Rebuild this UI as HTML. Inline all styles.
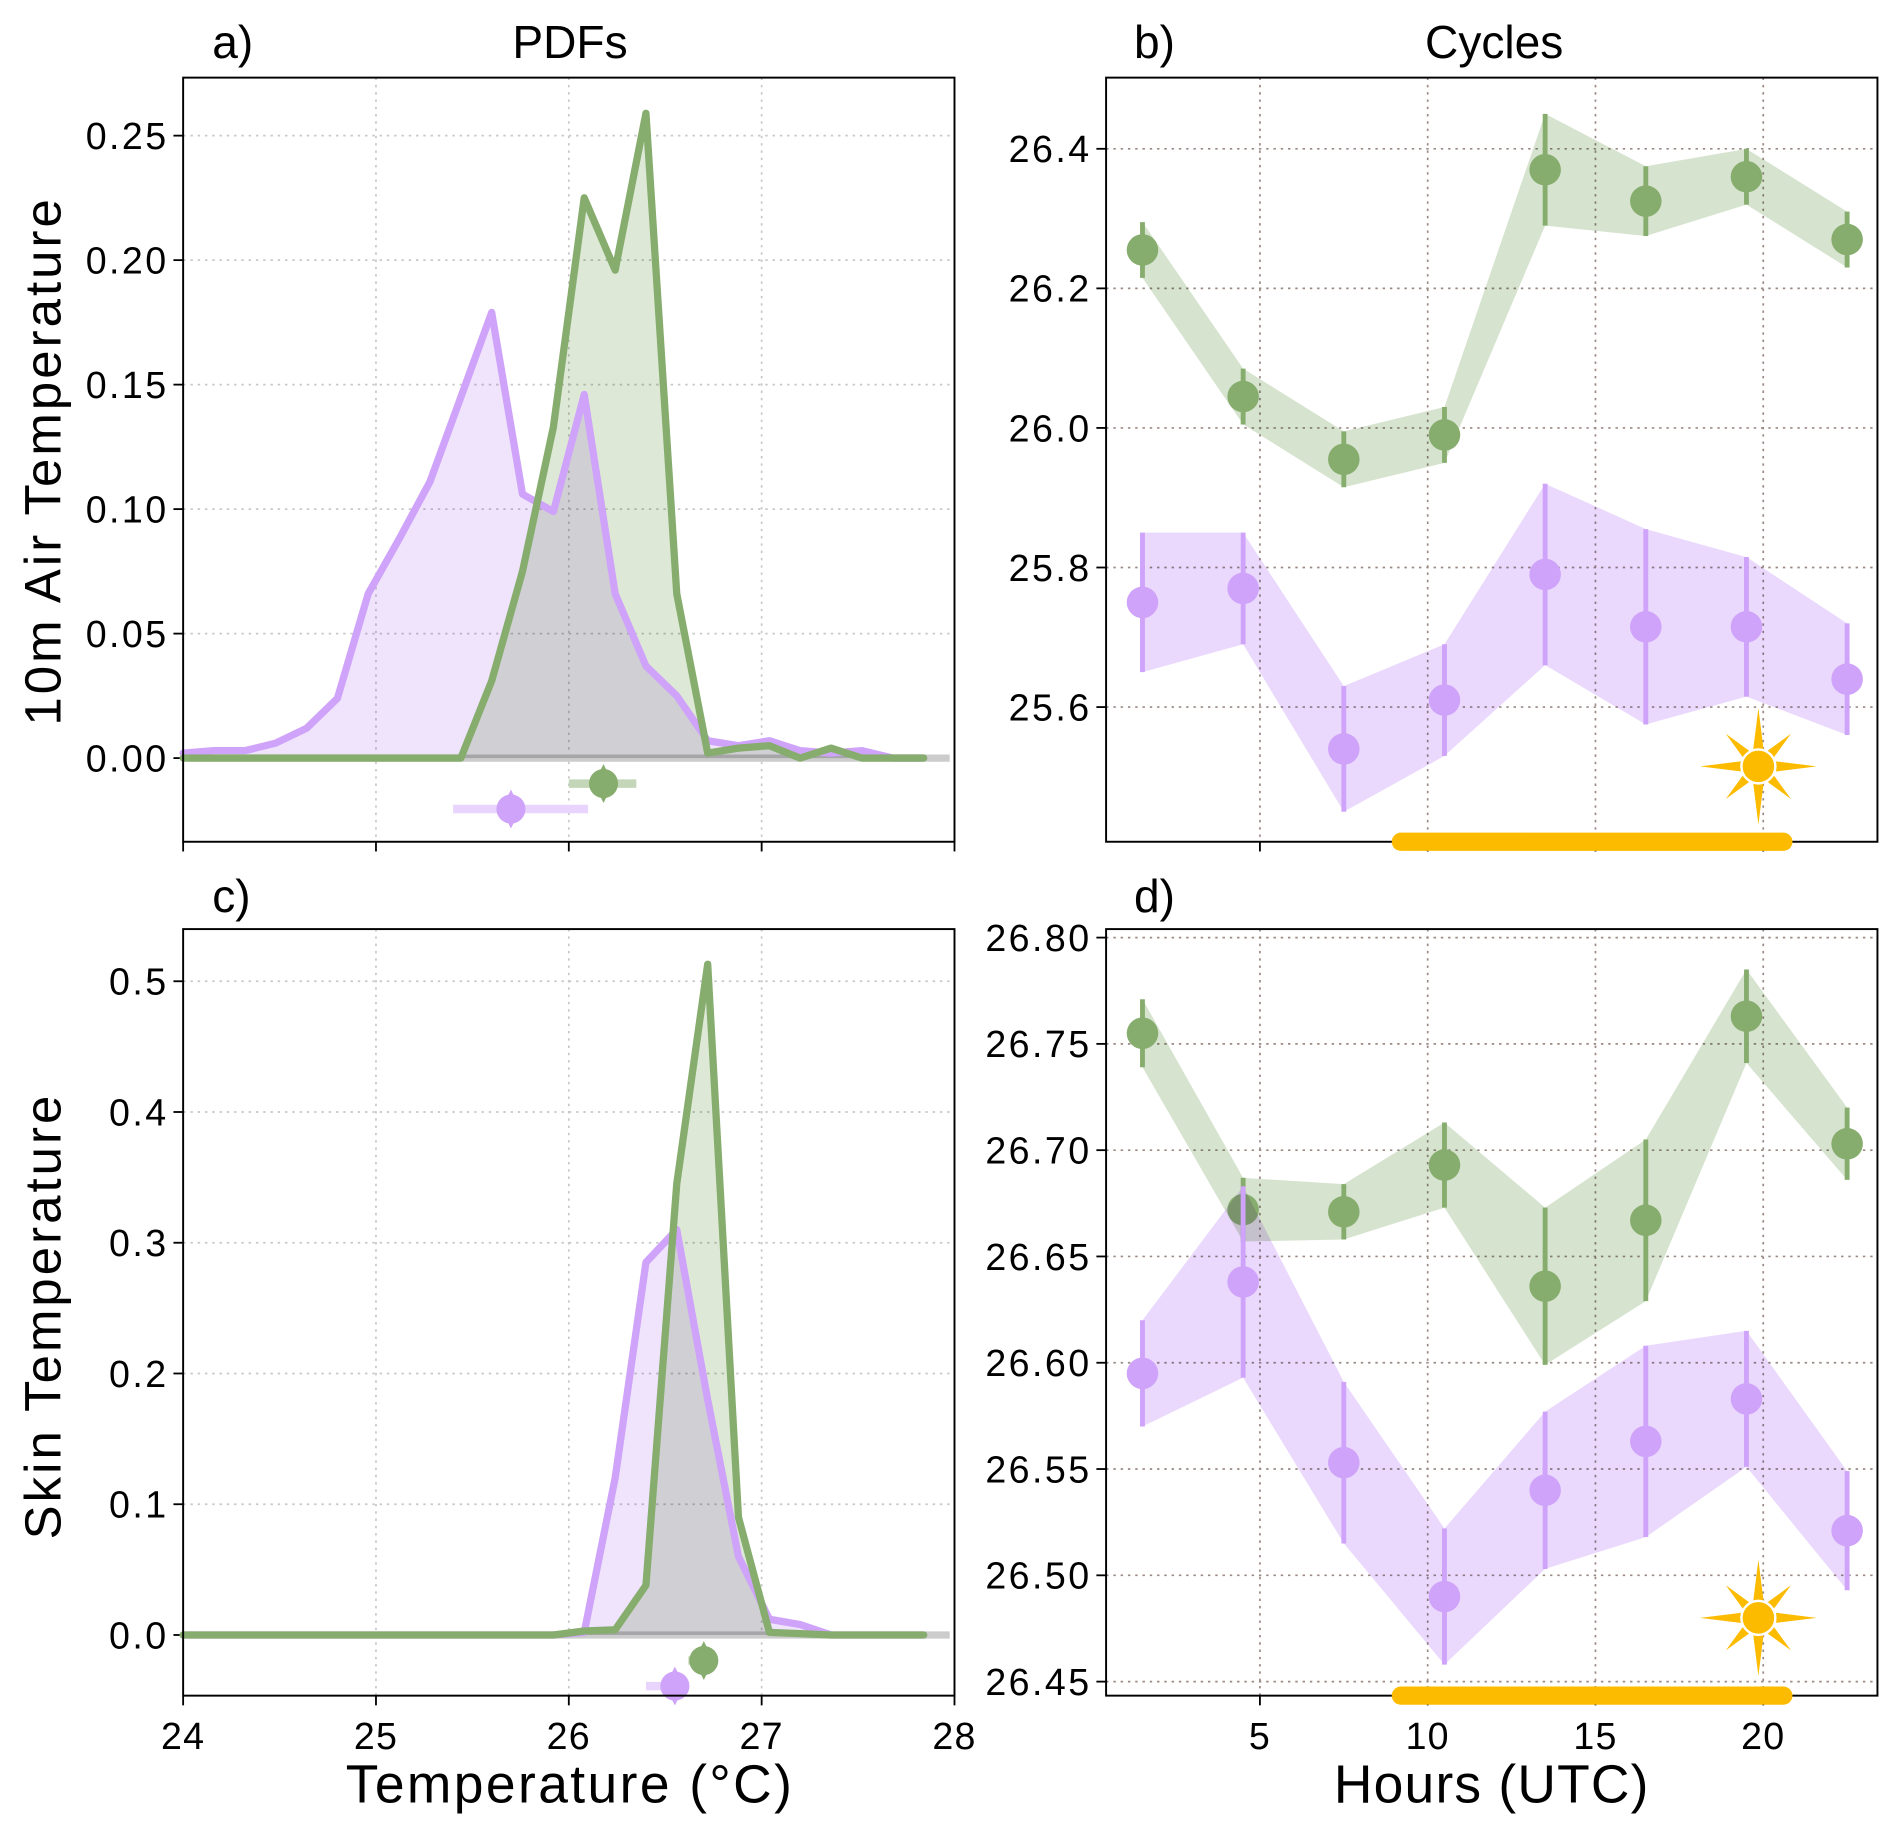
<!DOCTYPE html>
<html><head><meta charset="utf-8"><style>
html,body{margin:0;padding:0;background:#fff;}
svg{display:block;}
text{font-family:"Liberation Sans",sans-serif;fill:#000;}
</style></head><body>
<svg id="fig" width="1892" height="1823" viewBox="0 0 1560 1503" preserveAspectRatio="none" xmlns="http://www.w3.org/2000/svg"></svg>
<script>
// ---- data ----
const pdfBins = [24.00,24.16,24.32,24.48,24.64,24.80,24.96,25.12,25.28,25.44,25.60,25.76,25.92,26.08,26.24,26.40,26.56,26.72,26.88,27.04,27.20,27.36,27.52,27.68,27.84];
const airPurple = [0.002,0.003,0.003,0.006,0.012,0.024,0.066,0.088,0.111,0.145,0.179,0.106,0.099,0.146,0.066,0.037,0.025,0.007,0.005,0.007,0.003,0.002,0.003,0.0,0.0];
const airGreen  = [0,0,0,0,0,0,0,0,0,0,0.031,0.075,0.133,0.225,0.196,0.259,0.066,0.002,0.004,0.005,0.0,0.004,0.0,0.0,0.0];
const skinPurple= [0,0,0,0,0,0,0,0,0,0,0,0,0,0.002,0.12,0.285,0.31,0.18,0.06,0.012,0.008,0.0,0.0,0.0,0.0];
const skinGreen = [0,0,0,0,0,0,0,0,0,0,0,0,0,0.003,0.004,0.038,0.345,0.513,0.09,0.002,0.001,0.0,0.0,0.0,0.0];
const airBoxGreen = [26.0, 26.18, 26.35];
const airBoxPurple = [25.4, 25.7, 26.1];
const skinBoxGreen = [26.62, 26.7, 26.75];
const skinBoxPurple = [26.4, 26.55, 26.62];
const hours = [1.5,4.5,7.5,10.5,13.5,16.5,19.5,22.5];
const airCycGreen = [26.255,26.045,25.955,25.99,26.37,26.325,26.36,26.27];
const airCycGreenErr = [0.04,0.04,0.04,0.04,0.08,0.05,0.04,0.04];
const airCycPurple = [25.75,25.77,25.54,25.61,25.79,25.715,25.715,25.64];
const airCycPurpleErr = [0.1,0.08,0.09,0.08,0.13,0.14,0.1,0.08];
const skinCycGreen = [26.755,26.672,26.671,26.693,26.636,26.667,26.763,26.703];
const skinCycGreenErr = [0.016,0.015,0.013,0.02,0.037,0.038,0.022,0.017];
const skinCycPurple = [26.595,26.638,26.553,26.49,26.54,26.563,26.583,26.521];
const skinCycPurpleErr = [0.025,0.045,0.038,0.032,0.037,0.045,0.032,0.028];
const pdfXTicks = [24,25,26,27,28];
const airPdfYTicks = [0,0.05,0.10,0.15,0.20,0.25];
const skinPdfYTicks = [0,0.1,0.2,0.3,0.4,0.5];
const hourTicks = [5,10,15,20];
const airCycYTicks = [25.6,25.8,26.0,26.2,26.4];
const skinCycYTicks = [26.45,26.50,26.55,26.60,26.65,26.70,26.75,26.80];
const daylight = [9.2, 20.6];
const sunHour = 20;

const G='#86ad6e', GF='#dde9d6', P='#cfa3f9', PF='#f0e4fd', SUN='#fdbb00';
const svg=document.getElementById('fig');
const NS='http://www.w3.org/2000/svg';
function el(tag,attrs,parent){const e=document.createElementNS(NS,tag);for(const k in attrs)e.setAttribute(k,attrs[k]);(parent||svg).appendChild(e);return e;}
function lin(d0,d1,r0,r1){return v=>r0+(v-d0)*(r1-r0)/(d1-d0);}

function panel(cfg){
  const g=el('g',{});
  
  
  const {x0,x1,y0,y1,sx,sy}=cfg;
  cfg.xt.forEach(t=>{const x=sx(t);if(x>x0+1&&x<x1-1)el('line',{x1:x,x2:x,y1:y0,y2:y1,stroke:cfg.gridc,'stroke-width':1.4,'stroke-dasharray':'2 4'},g);});
  cfg.yt.forEach(t=>{const y=sy(t);el('line',{x1:x0,x2:x1,y1:y,y2:y,stroke:cfg.gridc,'stroke-width':1.4,'stroke-dasharray':'2 4'},g);});
  cfg.xt.forEach(t=>{const x=sx(t);el('line',{x1:x,x2:x,y1:y1,y2:y1+8,stroke:'#000','stroke-width':1.5},g);
    if(cfg.xlab){const tx=el('text',{x:x,y:y1+44,'font-size':31,'text-anchor':'middle','letter-spacing':1},g);tx.textContent=t;
      
      }});
  cfg.yt.forEach(t=>{const y=sy(t);el('line',{x1:x0-8,x2:x0,y1:y,y2:y,stroke:'#000','stroke-width':1.5},g);
    const tx=el('text',{x:x0-12,y:y+11,'font-size':31,'text-anchor':'end','letter-spacing':2},g);tx.textContent=t.toFixed(cfg.dec);
    
    });
  return g;
}
function frame(g,x0,x1,y0,y1){el('rect',{x:x0,y:y0,width:x1-x0,height:y1-y0,fill:'none',stroke:'#000','stroke-width':1.6},g);}

function pdfPanel(name,y0,y1,ylo,yhi,yt,dec,xlab,pur,grn,boxG,boxP){
  const x0=151,x1=787;
  const sx=lin(24,28,x0,x1), sy=lin(ylo,yhi,y1,y0);
  const g=panel({name,x0,x1,y0,y1,sx,sy,xt:pdfXTicks,yt,dec,xlab,gridc:'#c8c8c8'});
  el('line',{x1:x0+4,x2:x1-4,y1:sy(0),y2:sy(0),stroke:'#cccccc','stroke-width':6},g);
  [[pur,P,PF,'purple'],[grn,G,GF,'green']].forEach(([vals,c,f,nm])=>{
    const pts=pdfBins.map((b,i)=>sx(b).toFixed(1)+','+sy(vals[i]).toFixed(1));
    const poly=el('polygon',{points:sx(pdfBins[0])+','+sy(0)+' '+pts.join(' ')+' '+sx(pdfBins[pdfBins.length-1])+','+sy(0),fill:f,style:'mix-blend-mode:multiply'},g);
    
    
  });
  [[pur,P,'purple'],[grn,G,'green']].forEach(([vals,c,nm])=>{
    const pts=pdfBins.map((b,i)=>sx(b).toFixed(1)+','+sy(vals[i]).toFixed(1));
    const pl=el('polyline',{points:pts.join(' '),fill:'none',stroke:c,'stroke-width':6,'stroke-linejoin':'round','stroke-linecap':'round'},g);
    
    
  });
  [[boxG,G,'#c3d6b7',-0.01*(yhi-ylo)/0.3,'green'],[boxP,P,'#e8d4fc',-0.02*(yhi-ylo)/0.3,'purple']].forEach(([b,c,lc,yv,nm])=>{
    const y=sy(yv);
    const l=el('line',{x1:sx(b[0]),x2:sx(b[2]),y1:y,y2:y,stroke:lc,'stroke-width':7},g);
    
    
    const e=el('ellipse',{cx:sx(b[1]),cy:y,rx:12,ry:12,fill:c},g);
    
    
    el('path',{d:`M${sx(b[1])} ${y-16} L${sx(b[1])+8} ${y} L${sx(b[1])} ${y+16} L${sx(b[1])-8} ${y} Z`,fill:c},g);
  });
  frame(g,x0,x1,y0,y1);
}

function sun(g,cx,cy){
  const s=el('g',{},g);
  
  
  for(let k=0;k<8;k++){const a=k*Math.PI/4;const L=(k%2==0)?48:38;
    const tx=cx+L*Math.cos(a),ty=cy+L*Math.sin(a),w=6;
    const px=-Math.sin(a)*w,py=Math.cos(a)*w;
    el('polygon',{points:`${tx},${ty} ${cx+px},${cy+py} ${cx-px},${cy-py}`,fill:SUN},s);}
  el('circle',{cx,cy,r:14,fill:SUN,stroke:'#fff','stroke-width':2},s);
}

function cycPanel(name,y0,y1,ylo,yhi,yt,dec,xlab,grn,ge,pur,pe,sunY){
  const x0=912,x1=1548;
  const sx=lin(1.5,22.5,942,1523), sy=lin(ylo,yhi,y1,y0);
  const g=panel({name,x0,x1,y0,y1,sx,sy,xt:hourTicks,yt,dec,xlab,gridc:'#9a8a84'});
  [[grn,ge,G,'#d6e3ce','green'],[pur,pe,P,'#ead9fd','purple']].forEach(([m,e,c,f,nm])=>{
    const up=hours.map((h,i)=>sx(h).toFixed(1)+','+sy(m[i]+e[i]).toFixed(1));
    const dn=hours.map((h,i)=>sx(h).toFixed(1)+','+sy(m[i]-e[i]).toFixed(1)).reverse();
    const band=el('polygon',{points:up.concat(dn).join(' '),fill:f,style:'mix-blend-mode:multiply'},g);
    
    
    hours.forEach((h,i)=>{
      const l=el('line',{x1:sx(h),x2:sx(h),y1:sy(m[i]-e[i]),y2:sy(m[i]+e[i]),stroke:c,'stroke-width':4},g);
      
      
      const d=el('circle',{cx:sx(h),cy:sy(m[i]),r:13,fill:c},g);
      
      
    });
  });
  sun(g,sx(sunHour)-4,sy(sunY));
  frame(g,x0,x1,y0,y1);
  const bar=el('line',{x1:sx(daylight[0]),x2:sx(daylight[1]),y1:y1,y2:y1,stroke:SUN,'stroke-width':15,'stroke-linecap':'round'},g);
  
  
}

pdfPanel('panel-a-air-pdf',64,694,-0.0336,0.2733,airPdfYTicks,2,false,airPurple,airGreen,airBoxGreen,airBoxPurple);
pdfPanel('panel-c-skin-pdf',766,1398,-0.0464,0.5399,skinPdfYTicks,1,true,skinPurple,skinGreen,skinBoxGreen,skinBoxPurple);
cycPanel('panel-b-air-cycle',64,694,25.407,26.502,airCycYTicks,1,false,airCycGreen,airCycGreenErr,airCycPurple,airCycPurpleErr,25.515);
cycPanel('panel-d-skin-cycle',766,1398,26.4434,26.804,skinCycYTicks,2,true,skinCycGreen,skinCycGreenErr,skinCycPurple,skinCycPurpleErr,26.48);

function txt(s,x,y,size,name,anchor,rot,ls){
  const t=el('text',{x,y,'font-size':size,'text-anchor':anchor||'start'});
  if(rot)t.setAttribute('transform',`rotate(-90 ${x} ${y})`);
  if(ls)t.setAttribute('letter-spacing',ls);
  t.textContent=s;
  
  
}
txt('a)',175,48,38,'panel-a-label');
txt('PDFs',470,48,38,'panel-a-title','middle');
txt('b)',935,48,38,'panel-b-label');
txt('Cycles',1232,48,38,'panel-b-title','middle');
txt('c)',175,752,38,'panel-c-label');
txt('d)',935,752,38,'panel-d-label');
txt('10m Air  Temperature',50,380,42,'y-axis-title-air','middle',true,2.5);
txt('Skin Temperature',50,1085,42,'y-axis-title-skin','middle',true,2.5);
txt('Temperature (°C)',470,1486,44,'x-axis-title-temperature','middle',false,2);
txt('Hours (UTC)',1230,1486,44,'x-axis-title-hours','middle',false,1);
</script>
</body></html>
